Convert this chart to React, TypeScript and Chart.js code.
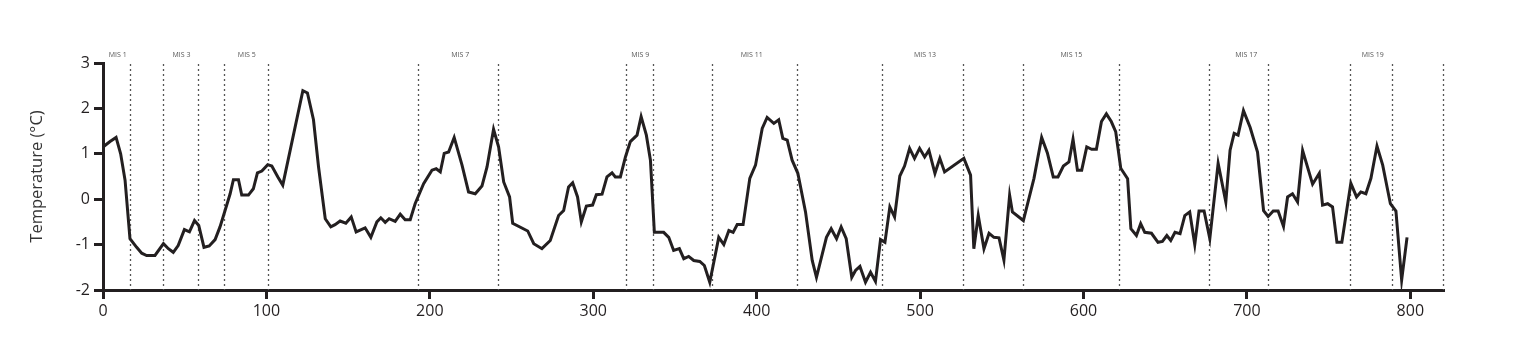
import React, { useEffect, useRef } from "react";
import { Chart, registerables } from "chart.js";

Chart.register(...registerables);

// Age (ka) and temperature anomaly (°C)
const ages: number[] = [
  0, 4.3, 8, 10.8, 13.5, 16.5, 20.6, 23.7, 26.7, 31.8, 37, 40, 43, 46, 49.8, 52.9, 56, 58.6, 61.8, 65,
  68.6, 71.6, 74.7, 77.8, 79.8, 82.9, 84.9, 89, 92, 94.5, 97.2, 100.8, 103.3, 107, 110, 122.3, 125.1, 128.8,
  131.9, 136, 139.4, 142, 145.1, 148.6, 151.9, 154.9, 160.4, 163.9, 167.6, 170, 172.7, 175.1, 178.8, 181.9,
  184.9, 188, 191, 196.2, 201.3, 203.9, 206.4, 208.8, 211.5, 214.9, 219.7, 223.7, 227.8, 231.9, 235, 239,
  242.1, 245.2, 248.8, 250.7, 259.9, 263.6, 268.6, 273.7, 278.8, 281.9, 284.9, 287.4, 290.4, 292.7, 295.8,
  299.6, 301.9, 305.4, 308.4, 311.5, 313.5, 316.6, 319.7, 322.7, 326.8, 329.3, 332.5, 335, 337.4, 343.1,
  346.2, 349.2, 352.7, 355.4, 358.4, 361.5, 365.2, 368, 371.3, 374.2, 376.8, 379.9, 383, 385.6, 388.1,
  391.7, 395.8, 399.3, 403.4, 406.4, 410.5, 413.5, 416, 418.7, 421.7, 425.2, 429.9, 434, 436.6, 442.7,
  445.6, 448.9, 451.7, 454.8, 458.2, 460.5, 463.2, 466.6, 469.7, 472.7, 475.8, 478.5, 481.5, 484.4, 487.6,
  490.5, 493.6, 496.6, 499.7, 502.8, 505.4, 509.1, 512.1, 515, 526.8, 530.9, 532.9, 535.6, 539.1, 542.2,
  545.2, 548.3, 551.3, 554.8, 556.5, 563.2, 569.7, 574.4, 577.9, 581.5, 584.4, 587.7, 591.1, 593.6, 596.3,
  598.9, 602, 605, 607.9, 611, 614, 617, 619.7, 622.8, 627, 629, 632.4, 635, 637.5, 641.6, 645.6, 648.3,
  651, 653.4, 656, 659.1, 662, 665, 668.1, 670.7, 673.8, 677.3, 682.4, 687.1, 689.7, 692.2, 694.6, 697.9,
  702, 706.5, 710.2, 713, 716.1, 719.1, 722.4, 724.9, 727.9, 731, 734.1, 740.2, 744.3, 746.3, 749.4,
  752.4, 755.1, 758.1, 763.6, 767.1, 769.7, 772.8, 775.9, 779.6, 783.1, 787.8, 791.2, 794.7, 798,
];

const temps: number[] = [
  1.15, 1.27, 1.36, 1.0, 0.42, -0.87, -1.06, -1.19, -1.24, -1.24, -0.98, -1.09, -1.17, -1.02, -0.67, -0.72,
  -0.47, -0.58, -1.06, -1.03, -0.89, -0.61, -0.25, 0.12, 0.43, 0.43, 0.09, 0.09, 0.23, 0.58, 0.62, 0.76,
  0.73, 0.49, 0.31, 2.39, 2.34, 1.75, 0.71, -0.43, -0.61, -0.56, -0.48, -0.53, -0.39, -0.72, -0.63, -0.84,
  -0.5, -0.41, -0.51, -0.43, -0.49, -0.33, -0.45, -0.45, -0.1, 0.34, 0.64, 0.67, 0.6, 1.01, 1.04, 1.36,
  0.75, 0.16, 0.12, 0.29, 0.71, 1.54, 1.15, 0.38, 0.05, -0.53, -0.7, -0.98, -1.09, -0.91, -0.36, -0.25,
  0.27, 0.36, 0.05, -0.5, -0.15, -0.13, 0.1, 0.11, 0.49, 0.58, 0.49, 0.49, 0.93, 1.27, 1.41, 1.82, 1.41,
  0.86, -0.73, -0.73, -0.84, -1.13, -1.09, -1.31, -1.26, -1.35, -1.37, -1.46, -1.83, -1.31, -0.84, -1.0,
  -0.69, -0.73, -0.56, -0.56, 0.46, 0.75, 1.56, 1.8, 1.67, 1.75, 1.34, 1.3, 0.86, 0.57, -0.28, -1.35,
  -1.72, -0.84, -0.65, -0.87, -0.61, -0.87, -1.72, -1.57, -1.48, -1.83, -1.61, -1.81, -0.89, -0.95, -0.17,
  -0.39, 0.51, 0.73, 1.12, 0.9, 1.12, 0.93, 1.08, 0.57, 0.9, 0.6, 0.9, 0.53, -1.09, -0.36, -1.09, -0.75,
  -0.84, -0.85, -1.34, 0.09, -0.28, -0.47, 0.46, 1.36, 1.02, 0.49, 0.49, 0.73, 0.82, 1.32, 0.64, 0.64,
  1.15, 1.1, 1.1, 1.71, 1.88, 1.71, 1.49, 0.68, 0.45, -0.65, -0.8, -0.54, -0.73, -0.75, -0.95, -0.93, -0.8,
  -0.91, -0.73, -0.76, -0.36, -0.28, -1.0, -0.26, -0.26, -0.87, 0.79, -0.06, 1.08, 1.45, 1.41, 1.95, 1.58,
  1.04, -0.25, -0.38, -0.26, -0.26, -0.6, 0.05, 0.12, -0.06, 1.07, 0.33, 0.57, -0.13, -0.1, -0.17, -0.95,
  -0.95, 0.35, 0.05, 0.16, 0.12, 0.46, 1.17, 0.75, -0.1, -0.26, -1.78, -0.84,
];

// Marine isotope stage boundaries (ka) drawn as dotted lines
const boundaries: number[] = [
  16.5, 37, 58, 74, 101, 193, 242, 320, 336.5, 372.5, 424.5, 476.8, 526.2, 562.8, 622, 677, 712.7, 763.2,
  788.5, 820,
];

const misLabels: string[] = ["MIS 1", "MIS 3", "MIS 5", "MIS 7", "MIS 9", "MIS 11", "MIS 13", "MIS 15", "MIS 17", "MIS 19"];
const misPositions: number[] = [9, 48, 88, 218.6, 328.8, 397, 503, 592.6, 699.6, 777];

const xTickValues: number[] = [0, 100, 200, 300, 400, 500, 600, 700, 800];
const yTickValues: number[] = [-2, -1, 0, 1, 2, 3];

const INK = "#231f20";
const FONT = "'Open Sans', 'DejaVu Sans', sans-serif";

const misPlugin = {
  id: "misPlugin",
  beforeDatasetsDraw(chart: any) {
    const { ctx, chartArea, scales } = chart;
    const xs = scales.x;
    ctx.save();
    ctx.strokeStyle = "#555";
    ctx.lineWidth = 1.3;
    ctx.setLineDash([2, 3]);
    boundaries.forEach((b) => {
      const px = Math.round(xs.getPixelForValue(b)) + 0.5;
      ctx.beginPath();
      ctx.moveTo(px, chartArea.top + 1);
      ctx.lineTo(px, chartArea.bottom);
      ctx.stroke();
    });
    ctx.restore();
  },
  afterDraw(chart: any) {
    const { ctx, chartArea, scales } = chart;
    const xs = scales.x;
    ctx.save();
    ctx.fillStyle = "#555";
    ctx.font = `7px ${FONT}`;
    ctx.textAlign = "center";
    ctx.textBaseline = "middle";
    misLabels.forEach((lab, i) => {
      ctx.fillText(lab, xs.getPixelForValue(misPositions[i]), chartArea.top - 8);
    });
    ctx.restore();
  },
};

export default function App() {
  const canvasRef = useRef<HTMLCanvasElement | null>(null);

  useEffect(() => {
    if (!canvasRef.current) return;
    const chart = new Chart(canvasRef.current, {
      type: "line",
      data: {
        datasets: [
          {
            label: "Temperature",
            data: ages.map((a, i) => ({ x: a, y: temps[i] })),
            borderColor: INK,
            borderWidth: 3,
            pointRadius: 0,
            tension: 0,
            fill: false,
          },
        ],
      },
      options: {
        animation: false,
        responsive: true,
        maintainAspectRatio: false,
        layout: { padding: { left: 0, top: 63, right: 73, bottom: 0 } },
        plugins: { legend: { display: false }, tooltip: { enabled: false } },
        scales: {
          x: {
            type: "linear",
            min: 0,
            max: 820,
            afterFit(scale: any) {
              scale.height = 66;
            },
            afterBuildTicks(scale: any) {
              scale.ticks = xTickValues.map((v) => ({ value: v }));
            },
            ticks: {
              includeBounds: false,
              color: INK,
              font: { size: 16, family: FONT },
              padding: 3,
              maxRotation: 0,
            },
            grid: {
              drawOnChartArea: false,
              drawTicks: true,
              tickLength: 9,
              lineWidth: 3,
              color: INK,
            },
            border: { display: true, width: 3, color: INK },
          },
          y: {
            type: "linear",
            min: -2,
            max: 3,
            afterFit(scale: any) {
              scale.width = 103;
            },
            afterBuildTicks(scale: any) {
              scale.ticks = yTickValues.map((v) => ({ value: v }));
            },
            ticks: {
              color: INK,
              font: { size: 16, family: FONT },
              padding: 4,
            },
            grid: {
              drawOnChartArea: false,
              drawTicks: true,
              tickLength: 9,
              lineWidth: 3,
              color: INK,
            },
            border: { display: true, width: 3, color: INK },
            title: {
              display: true,
              text: "Temperature (°C)",
              color: "#333",
              font: { size: 16.5, family: FONT },
              padding: { top: 27, bottom: 0 },
            },
          },
        },
      },
      plugins: [misPlugin],
    });
    return () => chart.destroy();
  }, []);

  return (
    <div style={{ position: "absolute", left: 0, top: 0, width: 1516, height: 356, background: "#fff" }}>
      <canvas ref={canvasRef} />
    </div>
  );
}
